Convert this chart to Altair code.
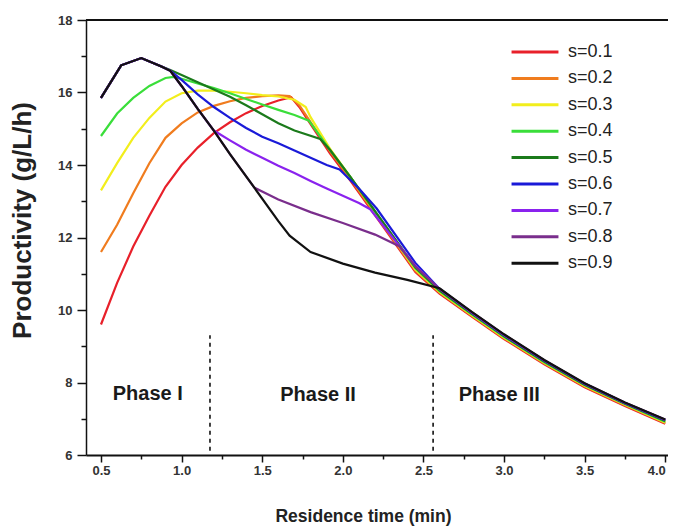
import altair as alt
import pandas as pd

series = ["s=0.1", "s=0.2", "s=0.3", "s=0.4", "s=0.5", "s=0.6", "s=0.7", "s=0.8", "s=0.9"]
colors = ["#e8202a", "#f07c1e", "#f2ee1c", "#3ade3a", "#1b7a1b", "#1a1ad8", "#8a22ee", "#7a2e8c", "#111111"]

s01_x = [0.5, 0.6, 0.7, 0.8, 0.9, 1.0, 1.1, 1.2, 1.3, 1.4, 1.5, 1.6, 1.68, 1.73, 1.8, 1.92, 2.05, 2.25, 2.45, 2.6, 2.8, 3.0, 3.25, 3.5, 3.75, 4.0]
s01_y = [9.6, 10.75, 11.75, 12.6, 13.4, 14.0, 14.48, 14.88, 15.18, 15.43, 15.63, 15.78, 15.87, 15.6, 15.13, 14.32, 13.55, 12.3, 11.05, 10.45, 9.82, 9.2, 8.5, 7.87, 7.35, 6.86]

s02_x = [0.5, 0.6, 0.7, 0.8, 0.9, 1.0, 1.1, 1.2, 1.3, 1.4, 1.5, 1.6, 1.67, 1.73, 1.8, 1.92, 2.05, 2.25, 2.45, 2.6, 2.8, 3.0, 3.25, 3.5, 3.75, 4.0]
s02_y = [11.6, 12.35, 13.22, 14.05, 14.75, 15.15, 15.45, 15.63, 15.76, 15.85, 15.9, 15.92, 15.9, 15.65, 15.18, 14.38, 13.6, 12.34, 11.08, 10.48, 9.84, 9.22, 8.52, 7.89, 7.37, 6.88]

s03_x = [0.5, 0.6, 0.7, 0.8, 0.9, 1.0, 1.1, 1.2, 1.3, 1.4, 1.5, 1.6, 1.7, 1.77, 1.8, 1.92, 2.05, 2.25, 2.45, 2.6, 2.8, 3.0, 3.25, 3.5, 3.75, 4.0]
s03_y = [13.3, 14.05, 14.75, 15.3, 15.75, 15.98, 16.05, 16.05, 16.02, 15.98, 15.93, 15.89, 15.8, 15.6, 15.32, 14.45, 13.65, 12.38, 11.12, 10.5, 9.86, 9.24, 8.54, 7.91, 7.39, 6.9]

s04_x = [0.5, 0.6, 0.7, 0.8, 0.9, 0.95, 1.0, 1.1, 1.2, 1.3, 1.4, 1.5, 1.6, 1.7, 1.79, 1.92, 2.05, 2.25, 2.45, 2.6, 2.8, 3.0, 3.25, 3.5, 3.75, 4.0]
s04_y = [14.8, 15.42, 15.85, 16.18, 16.4, 16.43, 16.38, 16.25, 16.12, 15.98, 15.82, 15.67, 15.52, 15.38, 15.22, 14.42, 13.65, 12.4, 11.15, 10.52, 9.88, 9.26, 8.56, 7.93, 7.41, 6.92]

s05_x = [0.5, 0.625, 0.75, 0.875, 0.93, 1.0, 1.1, 1.2, 1.3, 1.4, 1.5, 1.6, 1.7, 1.86, 1.92, 2.05, 2.25, 2.45, 2.6, 2.8, 3.0, 3.25, 3.5, 3.75, 4.0]
s05_y = [15.85, 16.75, 16.95, 16.72, 16.62, 16.48, 16.28, 16.08, 15.88, 15.65, 15.4, 15.15, 14.95, 14.72, 14.42, 13.65, 12.42, 11.18, 10.54, 9.9, 9.28, 8.58, 7.94, 7.42, 6.94]

s06_x = [0.5, 0.625, 0.75, 0.875, 0.93, 1.0, 1.1, 1.2, 1.3, 1.4, 1.5, 1.6, 1.7, 1.8, 1.9, 1.98, 2.1, 2.21, 2.45, 2.6, 2.8, 3.0, 3.25, 3.5, 3.75, 4.0]
s06_y = [15.85, 16.75, 16.95, 16.72, 16.6, 16.35, 15.95, 15.6, 15.3, 15.02, 14.78, 14.6, 14.4, 14.2, 14.0, 13.88, 13.35, 12.8, 11.3, 10.58, 9.92, 9.3, 8.6, 7.96, 7.43, 6.96]

s07_x = [0.5, 0.625, 0.75, 0.875, 0.93, 1.0, 1.1, 1.2, 1.3, 1.4, 1.5, 1.6, 1.7, 1.8, 1.9, 2.0, 2.1, 2.17, 2.3, 2.45, 2.6, 2.8, 3.0, 3.25, 3.5, 3.75, 4.0]
s07_y = [15.85, 16.75, 16.95, 16.72, 16.6, 16.18, 15.55, 14.95, 14.68, 14.42, 14.2, 13.98, 13.78, 13.56, 13.35, 13.15, 12.95, 12.78, 12.05, 11.22, 10.58, 9.93, 9.31, 8.61, 7.97, 7.44, 6.97]

s08_x = [0.5, 0.625, 0.75, 0.875, 0.93, 1.0, 1.1, 1.2, 1.3, 1.45, 1.6, 1.8, 2.0, 2.2, 2.35, 2.45, 2.6, 2.8, 3.0, 3.25, 3.5, 3.75, 4.0]
s08_y = [15.85, 16.75, 16.95, 16.72, 16.6, 16.18, 15.55, 14.95, 14.3, 13.38, 13.05, 12.7, 12.4, 12.08, 11.76, 11.2, 10.58, 9.94, 9.32, 8.61, 7.97, 7.44, 6.97]

s09_x = [0.5, 0.625, 0.75, 0.875, 0.93, 1.0, 1.1, 1.2, 1.3, 1.45, 1.6, 1.67, 1.8, 2.0, 2.2, 2.4, 2.6, 2.8, 3.0, 3.25, 3.5, 3.75, 4.0]
s09_y = [15.85, 16.75, 16.95, 16.72, 16.6, 16.18, 15.55, 14.95, 14.3, 13.38, 12.45, 12.05, 11.6, 11.28, 11.03, 10.83, 10.6, 9.95, 9.33, 8.62, 7.98, 7.45, 6.98]

x_major = [0.5, 1.0, 1.5, 2.0, 2.5, 3.0, 3.5, 4.0]
x_minor = [0.75, 1.25, 1.75, 2.25, 2.75, 3.25, 3.75]
y_major = [6, 8, 10, 12, 14, 16, 18]
y_minor = [7, 9, 11, 13, 15, 17]

phase_labels = ["Phase I", "Phase II", "Phase III"]
phase_x = [0.79, 1.846, 2.97]
phase_y = [7.68, 7.66, 7.66]

divider_x = [1.176, 2.56]
divider_y1 = [6.12, 6.12]
divider_y2 = [9.3, 9.3]

all_x = [s01_x, s02_x, s03_x, s04_x, s05_x, s06_x, s07_x, s08_x, s09_x]
all_y = [s01_y, s02_y, s03_y, s04_y, s05_y, s06_y, s07_y, s08_y, s09_y]

rows = []
for i, (name, xs, ys) in enumerate(zip(series, all_x, all_y)):
    for j, (xv, yv) in enumerate(zip(xs, ys)):
        rows.append({"s": name, "k": i, "o": j, "x": xv, "y": yv})
df = pd.DataFrame(rows)

phase_df = pd.DataFrame({"label": phase_labels, "x": phase_x, "y": phase_y})
div_df = pd.DataFrame({"x": divider_x, "y1": divider_y1, "y2": divider_y2})

FONT = "Liberation Sans"
xscale = alt.Scale(domain=[0.407, 4.017], nice=False, zero=False)
yscale = alt.Scale(domain=[6, 18], nice=False, zero=False)

lines = alt.Chart(df).mark_line(strokeWidth=2.2).encode(
    x=alt.X("x:Q", scale=xscale,
            axis=alt.Axis(values=x_major, format=".1f", title="Residence time (min)",
                          labelFont=FONT, labelFontWeight="bold", labelFontSize=13, labelColor="#333",
                          labelPadding=2, labelFlush=4, tickSize=7, tickWidth=1.5, tickColor="#111",
                          domainWidth=2, domainColor="#111", grid=False,
                          titleFont=FONT, titleFontWeight="bold", titleFontSize=17.5, titleColor="#222",
                          titlePadding=30, titleX=277, orient="bottom")),
    y=alt.Y("y:Q", scale=yscale,
            axis=alt.Axis(values=y_major, format="d", title="Productivity  (g/L/h)",
                          labelFont=FONT, labelFontWeight="bold", labelFontSize=13, labelColor="#333",
                          labelPadding=5, tickSize=9, tickWidth=1.5, tickColor="#111",
                          domainWidth=1.5, domainColor="#111", grid=False,
                          titleFont=FONT, titleFontWeight="bold", titleFontSize=26, titleColor="#222",
                          titleX=-64, titleY=200, titleAlign="center", titleBaseline="middle",
                          titleAngle=270, orient="left")),
    color=alt.Color("s:N", scale=alt.Scale(domain=series, range=colors),
                    legend=alt.Legend(orient="none", legendX=424, legendY=22, title=None,
                                      symbolType="stroke", symbolSize=2200, symbolStrokeWidth=3,
                                      labelFont=FONT, labelFontSize=18, labelColor="#222",
                                      clipHeight=20, rowPadding=6.4, labelOffset=8, padding=0)),
    detail="k:N",
    order="o:Q",
)

minor = alt.Chart(df).mark_line(opacity=0).encode(
    x=alt.X("x:Q", scale=xscale,
            axis=alt.Axis(values=x_minor, labels=False, title=None, tickSize=4, tickWidth=1.5,
                          tickColor="#111", domain=False, grid=False, orient="bottom")),
    y=alt.Y("y:Q", scale=yscale,
            axis=alt.Axis(values=y_minor, labels=False, title=None, tickSize=5, tickWidth=1.5,
                          tickColor="#111", domain=False, grid=False, orient="left")),
    detail="k:N",
)

dividers = alt.Chart(div_df).mark_rule(strokeDash=[4, 4], strokeWidth=1.6, color="#111").encode(
    x=alt.X("x:Q", scale=xscale, axis=None),
    y=alt.Y("y1:Q", scale=yscale, axis=None),
    y2="y2:Q",
)

phases = alt.Chart(phase_df).mark_text(font=FONT, fontSize=20, fontWeight="bold", color="#1a1a1a").encode(
    x=alt.X("x:Q", scale=xscale, axis=None),
    y=alt.Y("y:Q", scale=yscale, axis=None),
    text="label:N",
)

top = alt.Chart(phase_df).mark_rule(strokeWidth=2, color="#111").encode(
    y=alt.value(0),
)

chart = alt.layer(minor, dividers, phases, top, lines).resolve_axis(
    x="independent", y="independent"
).properties(
    width=582, height=435,
    autosize=alt.AutoSizeParams(type="none"),
    padding={"left": 78, "top": 12, "right": 0, "bottom": 74},
).configure_view(stroke=None)

chart.save("out.html", embed_options={"renderer": "svg", "actions": False})
